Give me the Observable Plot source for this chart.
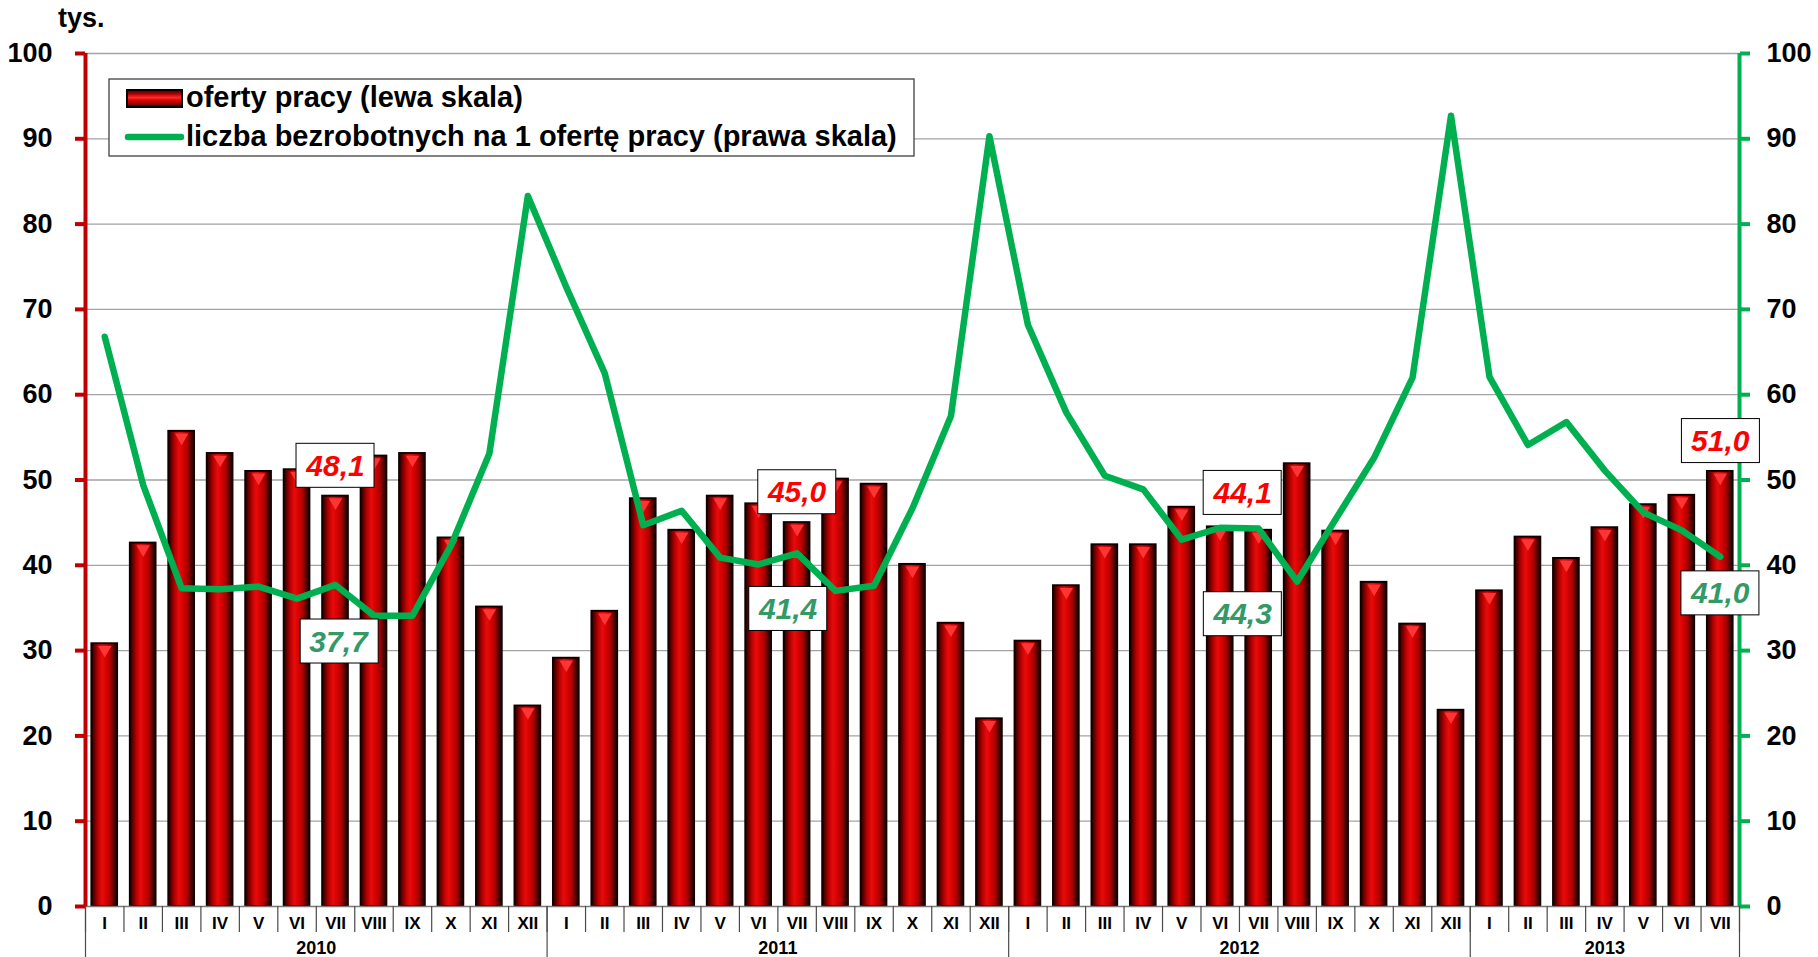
<!DOCTYPE html>
<html>
<head>
<meta charset="utf-8">
<script src="https://cdn.jsdelivr.net/npm/d3@7"></script>
<script src="https://cdn.jsdelivr.net/npm/@observablehq/plot@0.6"></script>
<style>
  html, body { margin: 0; padding: 0; background: #fff; }
  #wrap { width: 1818px; height: 957px; overflow: hidden; }
</style>
</head>
<body>
<div id="wrap"></div>
<script>
// ---- data ----
const months = ["I","II","III","IV","V","VI","VII","VIII","IX","X","XI","XII"];
const years = ["2010","2011","2012","2013"];
const monthsPerYear = [12, 12, 12, 7];

// oferty pracy (tys.) – lewa skala
const offers2010 = [30.8, 42.6, 55.7, 53.1, 51.0, 51.2, 48.1, 52.8, 53.1, 43.2, 35.1, 23.5];
const offers2011 = [29.1, 34.6, 47.8, 44.1, 48.1, 47.2, 45.0, 50.1, 49.5, 40.1, 33.2, 22.0];
const offers2012 = [31.1, 37.6, 42.4, 42.4, 46.8, 44.5, 44.1, 51.9, 44.0, 38.0, 33.1, 23.0];
const offers2013 = [37.0, 43.3, 40.8, 44.4, 47.1, 48.2, 51.0];

// liczba bezrobotnych na 1 ofertę pracy – prawa skala
const ratio2010 = [66.8, 49.4, 37.3, 37.2, 37.5, 36.1, 37.7, 34.1, 34.1, 42.3, 53.1, 83.3];
const ratio2011 = [72.6, 62.5, 44.7, 46.4, 40.9, 40.1, 41.4, 37.0, 37.6, 46.7, 57.5, 90.3];
const ratio2012 = [68.2, 57.9, 50.5, 48.9, 43.0, 44.4, 44.3, 38.1, 45.4, 52.6, 62.0, 92.7];
const ratio2013 = [62.1, 54.1, 56.8, 51.1, 46.2, 44.1, 41.0];

const yTicks = [0, 10, 20, 30, 40, 50, 60, 70, 80, 90, 100];

// annotated months (index of year, index of month)
const labelled = [[0, 6], [1, 6], [2, 6], [3, 6]];
// pixel nudges of the annotation boxes (dx, dy)
const barLabelNudge  = [[0, -30], [0, -30], [-16, -37], [0, -30]];
const lineLabelNudge = [[3, 57], [-9, 56], [-16, 86], [0, 37]];

// ---- table ----
const offersByYear = [offers2010, offers2011, offers2012, offers2013];
const ratioByYear = [ratio2010, ratio2011, ratio2012, ratio2013];
const rows = [];
years.forEach((yr, yi) => {
  for (let m = 0; m < monthsPerYear[yi]; m++) {
    rows.push({i: rows.length, yi, m, year: yr, month: months[m], offers: offersByYear[yi][m], ratio: ratioByYear[yi][m]});
  }
});
const n = rows.length;
const monthCenters = rows.map(d => d.i + 0.5);
const monthBounds = d3.range(n + 1);
const yearBounds = [0];
monthsPerYear.forEach(c => yearBounds.push(yearBounds[yearBounds.length - 1] + c));
const yearCenters = years.map((y, k) => (yearBounds[k] + yearBounds[k + 1]) / 2);

const fmt = v => v.toFixed(1).replace(".", ",");
const rowAt = (yi, m) => rows.find(d => d.yi === yi && d.m === m);

const FONT = "'Liberation Sans', Arial, Helvetica, sans-serif";

const labelMarks = [];
labelled.forEach(([yi, m], k) => {
  const r = rowAt(yi, m);
  labelMarks.push(Plot.text([r], {
    x: d => d.i + 0.5, y: "offers", text: d => fmt(d.offers),
    dx: barLabelNudge[k][0], dy: barLabelNudge[k][1],
    fill: "#ff0000", fontSize: 30, fontWeight: "bold", fontStyle: "italic"
  }));
  labelMarks.push(Plot.text([r], {
    x: d => d.i + 0.5, y: "ratio", text: d => fmt(d.ratio),
    dx: lineLabelNudge[k][0], dy: lineLabelNudge[k][1],
    fill: "#339966", fontSize: 30, fontWeight: "bold", fontStyle: "italic"
  }));
});

const chart = Plot.plot({
  width: 1818,
  height: 957,
  marginLeft: 85,
  marginRight: 79,
  marginTop: 53,
  marginBottom: 51,
  style: {fontFamily: FONT, color: "#000", background: "#fff", overflow: "visible"},
  x: {type: "linear", domain: [0, n], label: null},
  y: {domain: [0, 100], label: null},
  marks: [
    Plot.ruleY(yTicks.filter(t => t > 0), {stroke: "#a3a3a3", strokeWidth: 1.3}),
    Plot.rectY(rows, {
      x1: d => d.i, x2: d => d.i + 1, y: "offers",
      insetLeft: 6.4, insetRight: 6.4,
      fill: "url(#barGrad)", stroke: "#120000", strokeWidth: 2
    }),
    Plot.dot(rows, {
      x: d => d.i + 0.5, y: "offers", symbol: "triangle", rotate: 180, r: 5,
      fill: "#ff3434", stroke: "none", dy: 6
    }),
    Plot.ruleY([0], {stroke: "#7a7a7a", strokeWidth: 1.5}),
    Plot.line(rows, {
      x: d => d.i + 0.5, y: "ratio", stroke: "#00b050", strokeWidth: 6.5,
      strokeLinejoin: "round", strokeLinecap: "round"
    }),
    // left (red) axis
    Plot.ruleX([0], {stroke: "#c00000", strokeWidth: 4}),
    Plot.axisY(yTicks, {
      anchor: "left", tickSize: 10, tickPadding: 23, stroke: "#c00000", strokeWidth: 4,
      fill: "#000", fontSize: 27, fontWeight: "bold", label: null
    }),
    // right (green) axis
    Plot.ruleX([n], {stroke: "#00b050", strokeWidth: 4}),
    Plot.axisY(yTicks, {
      anchor: "right", tickSize: 10, tickPadding: 17, stroke: "#00b050", strokeWidth: 4,
      fill: "#000", fontSize: 27, fontWeight: "bold", label: null
    }),
    // category axis: separators, months, years
    Plot.axisX(monthBounds, {tickSize: 26, tickFormat: () => "", stroke: "#4a4a4a", strokeWidth: 1.2, label: null}),
    Plot.axisX(yearBounds, {tickSize: 51, tickFormat: () => "", stroke: "#4a4a4a", strokeWidth: 1.2, label: null}),
    Plot.axisX(monthCenters, {
      tickSize: 0, tickPadding: 10, tickFormat: d => rows[Math.floor(d)].month,
      fontSize: 17, fontWeight: "bold", fill: "#000", label: null
    }),
    Plot.axisX(yearCenters, {
      tickSize: 0, tickPadding: 35, tickFormat: d => years[yearCenters.indexOf(d)],
      fontSize: 18, fontWeight: "bold", fill: "#000", label: null
    }),
    ...labelMarks
  ]
});

document.getElementById("wrap").append(chart);
const svg = d3.select(chart);

// gradients
const defs = svg.insert("defs", ":first-child");
const barGrad = defs.append("linearGradient").attr("id", "barGrad")
  .attr("x1", "0").attr("x2", "1").attr("y1", "0").attr("y2", "0");
[[0, "#1a0000"], [0.1, "#5a0000"], [0.25, "#b80000"], [0.42, "#e60c0c"], [0.55, "#dc0202"],
 [0.75, "#a80000"], [0.9, "#4a0000"], [1, "#1a0000"]].forEach(([o, c]) =>
  barGrad.append("stop").attr("offset", o).attr("stop-color", c));
const legGrad = defs.append("linearGradient").attr("id", "legGrad")
  .attr("x1", "0").attr("x2", "0").attr("y1", "0").attr("y2", "1");
[[0, "#3a0000"], [0.2, "#a00000"], [0.45, "#ff2a2a"], [0.6, "#e00000"], [0.85, "#800000"], [1, "#2a0000"]].forEach(([o, c]) =>
  legGrad.append("stop").attr("offset", o).attr("stop-color", c));

// white boxes behind the annotations (the only italic texts)
const annot = [];
svg.selectAll("text").each(function () {
  let el = this, italic = false;
  while (el && el !== chart) {
    if (el.getAttribute && el.getAttribute("font-style") === "italic") { italic = true; break; }
    el = el.parentNode;
  }
  if (italic) annot.push(this);
});
annot.forEach(t => {
  const b = t.getBBox();
  const cx = b.x + b.width / 2, cy = b.y + b.height / 2;
  const rect = document.createElementNS("http://www.w3.org/2000/svg", "rect");
  rect.setAttribute("x", cx - 39);
  rect.setAttribute("y", cy - 22);
  rect.setAttribute("width", 78);
  rect.setAttribute("height", 44);
  rect.setAttribute("fill", "#fff");
  rect.setAttribute("stroke", "#000");
  rect.setAttribute("stroke-width", 1);
  const tr = t.getAttribute("transform");
  if (tr) rect.setAttribute("transform", tr);
  t.parentNode.insertBefore(rect, t);
});

// unit label
svg.append("text").attr("x", 58).attr("y", 27).attr("text-anchor", "start")
  .attr("font-family", FONT).attr("font-size", 27).attr("font-weight", "bold").text("tys.");

// legend
const lg = svg.append("g").attr("font-family", FONT).attr("font-size", 29)
  .attr("font-weight", "bold").attr("text-anchor", "start");
lg.append("rect").attr("x", 109).attr("y", 79).attr("width", 805).attr("height", 77)
  .attr("fill", "#fff").attr("stroke", "#404040").attr("stroke-width", 1.3);
lg.append("rect").attr("x", 127).attr("y", 90).attr("width", 55).attr("height", 17)
  .attr("fill", "url(#legGrad)").attr("stroke", "#000").attr("stroke-width", 2);
lg.append("text").attr("x", 186).attr("y", 107).text("oferty pracy (lewa skala)");
lg.append("line").attr("x1", 128).attr("x2", 181).attr("y1", 137).attr("y2", 137)
  .attr("stroke", "#00b050").attr("stroke-width", 6.5).attr("stroke-linecap", "round");
lg.append("text").attr("x", 186).attr("y", 146).text("liczba bezrobotnych na 1 ofertę pracy (prawa skala)");
</script>
</body>
</html>
